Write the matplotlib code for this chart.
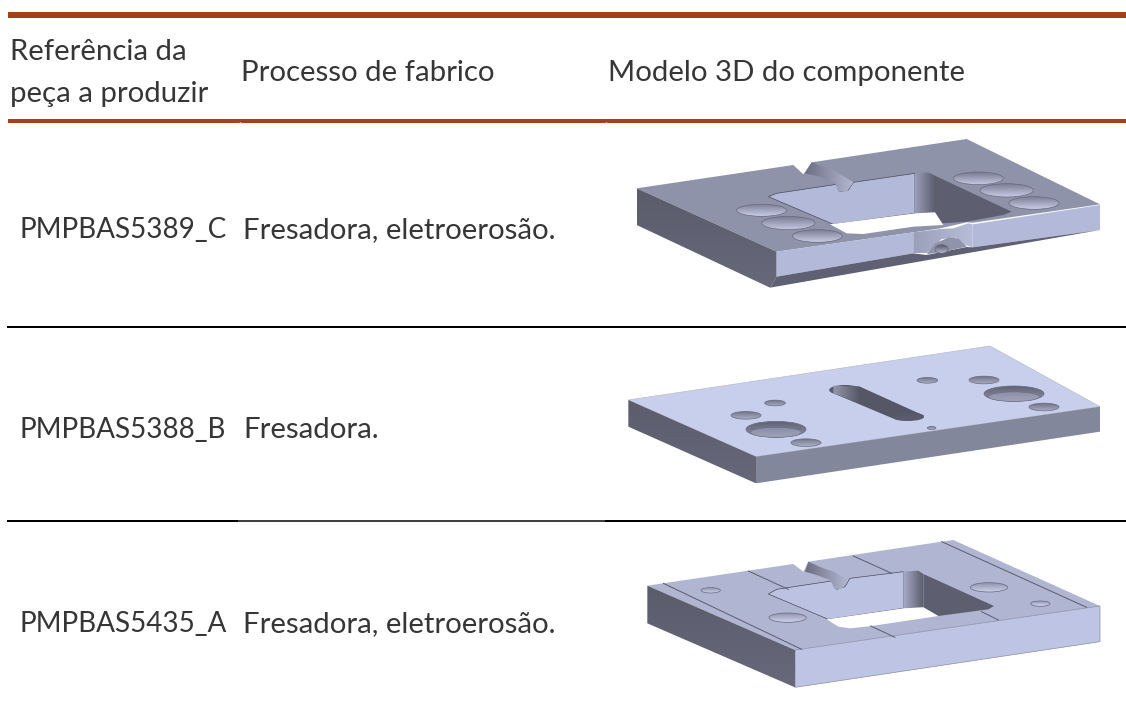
import numpy as np
import matplotlib
matplotlib.use('Agg')
import matplotlib.pyplot as plt
from matplotlib.patches import Polygon, Ellipse
from matplotlib.colors import LinearSegmentedColormap

plt.rcParams['font.family'] = ['Lato', 'DejaVu Sans']

header_ref = ['Referência da', 'peça a produzir']
header_proc = 'Processo de fabrico'
header_model = 'Modelo 3D do componente'
refs = ['PMPBAS5389_C', 'PMPBAS5388_B', 'PMPBAS5435_A']
procs = ['Fresadora, eletroerosão.', 'Fresadora.', 'Fresadora, eletroerosão.']
row_base = [238, 438, 632]

# shapes below are in 3x crop coordinates
m1_top = [(50, 190), (520, 120), (550, 148), (575, 112), (1040, 42), (1440, 238), (1060, 293), (1040, 292), (960, 310), (880, 322), (470, 380)]
m1_left = [(50, 190), (470, 380), (470, 455), (450, 488), (50, 300)]
m1_front_a = [(470, 380), (880, 322), (880, 385), (470, 455)]
m1_front_b = [(1058, 298), (1440, 240), (1440, 315), (1058, 367)]
m1_notch = [(880, 322), (960, 312), (1000, 310), (1045, 295), (1058, 298), (1058, 367), (1035, 360), (1010, 338), (965, 342), (920, 385), (880, 385)]
m1_recess = [(920, 388), (945, 355), (985, 338), (1015, 340), (1040, 365), (980, 378)]
m1_bottom = [(470, 455), (880, 385), (920, 390), (1040, 366), (1058, 367), (1440, 315), (450, 488)]
m1_back = [(445, 215), (470, 205), (650, 178), (660, 200), (685, 195), (700, 172), (885, 145), (885, 265), (640, 298)]
m1_corner = [(885, 145), (925, 142), (945, 152), (945, 262), (885, 265)]
m1_right = [(945, 152), (1175, 260), (1150, 270), (1040, 290), (965, 295), (945, 262)]
m1_open = [(630, 298), (885, 265), (945, 262), (970, 300), (880, 305), (730, 327), (680, 325)]
m1_groove = [(555, 145), (575, 112), (610, 125), (640, 135), (700, 172), (680, 200), (655, 200), (645, 175), (600, 155)]
m1_holes = [(425, 256, 150, 36), (505, 294, 160, 40), (592, 333, 150, 38), (1075, 160, 150, 38), (1160, 196, 160, 40), (1242, 234, 150, 38)]

m2_top = [(25, 195), (1110, 33), (1440, 215), (408, 365)]
m2_left = [(25, 195), (408, 365), (408, 445), (25, 275)]
m2_front = [(408, 365), (1440, 215), (1440, 290), (408, 445)]
m2_slot = [(665, 151), (720, 155), (912, 242), (865, 258), (830, 255), (633, 172)]
m2_slot_ends = [(675, 165, 95, 30), (865, 245, 95, 26)]
m2_slot_wall = [(640, 152), (720, 155), (720, 205), (640, 175)]
m2_small = [(465, 204, 62, 17), (378, 241, 90, 23), (558, 323, 90, 23), (922, 136, 62, 17), (1092, 135, 90, 23), (1272, 216, 90, 23), (935, 279, 26, 9)]
m2_big = [(468, 283, 180, 48), (1182, 176, 180, 46)]

m3_top = [(82, 167), (520, 102), (550, 125), (565, 95), (965, 35), (1000, 30), (1440, 228), (525, 360)]
m3_left = [(82, 167), (525, 360), (525, 472), (82, 280)]
m3_front = [(525, 360), (1440, 228), (1440, 335), (525, 472)]
m3_back = [(445, 192), (470, 178), (640, 152), (650, 178), (675, 170), (690, 145), (850, 125), (850, 235), (625, 268)]
m3_corner = [(850, 125), (895, 122), (910, 132), (910, 232), (850, 235)]
m3_right = [(910, 132), (1122, 228), (1105, 238), (955, 258), (910, 232)]
m3_open = [(620, 268), (850, 235), (910, 232), (955, 258), (755, 288), (690, 295), (655, 290)]
m3_groove = [(555, 125), (565, 95), (610, 115), (640, 125), (685, 150), (665, 178), (645, 178), (630, 150), (590, 135)]
m3_holes = [(272, 181, 58, 16), (503, 263, 112, 28), (1107, 172, 112, 28), (1261, 221, 58, 16)]
m3_lines = [[(130, 160), (545, 358)], [(385, 123), (505, 178)], [(700, 78), (815, 130)], [(965, 35), (1400, 232)], [(752, 288), (825, 322)], [(1085, 245), (1135, 270)]]

fig = plt.figure(figsize=(11.26, 7.19), dpi=100)
ax = fig.add_axes([0, 0, 1, 1])


def px(pts, off):
    return [(off[0] + x / 3, off[1] + y / 3) for x, y in pts]


def grad(patch, c0, c1, horizontal=False, z=3):
    ax.add_patch(patch)
    patch.set_facecolor('none')
    patch.set_edgecolor('none')
    patch.set_zorder(z)
    verts = patch.get_path().transformed(patch.get_patch_transform()).vertices
    x0, y0 = verts.min(axis=0)
    x1, y1 = verts.max(axis=0)
    g = np.linspace(0, 1, 64)
    g = g[None, :] if horizontal else g[:, None]
    cm = LinearSegmentedColormap.from_list('g', [c0, c1])
    ax.imshow(g, extent=(x0, x1, y1, y0), cmap=cm, aspect='auto', clip_path=patch, zorder=z, interpolation='bilinear')


def poly(pts, off, color, z=2, edge='none', lw=0.5):
    ax.add_patch(Polygon(px(pts, off), closed=True, facecolor=color, edgecolor=edge, lw=lw, zorder=z))


def hole(h, off, c0, c1, z=4, edge='#686a7e', lw=0.5):
    cx, cy = off[0] + h[0] / 3, off[1] + h[1] / 3
    w, ht = h[2] / 3, h[3] / 3
    grad(Ellipse((cx, cy), w, ht), c0, c1, z=z)
    ax.add_patch(Ellipse((cx, cy), w, ht, fc='none', ec=edge, lw=lw, zorder=z + 1))


# model 1
o1 = (620, 125)
poly(m1_top, o1, '#8f93a9')
grad(Polygon(px(m1_left, o1)), '#5a5b6b', '#676879')
poly(m1_front_a, o1, '#b3b9d8', z=3)
poly(m1_front_b, o1, '#b3b9d8', z=3)
grad(Polygon(px(m1_notch, o1)), '#9a9fba', '#b8bdd8', horizontal=True)
poly(m1_bottom, o1, '#5f6074', z=3)
poly(m1_recess, o1, '#9094ab', z=4)
poly(m1_back, o1, '#b3b9d8', z=3, edge='#4a4b5a')
grad(Polygon(px(m1_corner, o1)), '#9a9eb8', '#5d5e70', horizontal=True, z=4)
poly(m1_right, o1, '#5d5e6f', z=3)
poly(m1_open, o1, '#ffffff', z=4)
grad(Polygon(px(m1_groove, o1)), '#6c6e82', '#b4b9d2', horizontal=True, z=5)
for h in m1_holes:
    hole(h, o1, '#777a90', '#c6cbe4')
hole((965, 372, 40, 26), o1, '#4f5062', '#b0b4cc', z=6)

# model 2
o2 = (620, 335)
poly(m2_top, o2, '#c8cfec', edge='#b9bccb')
grad(Polygon(px(m2_left, o2)), '#5b5c6c', '#666778')
poly(m2_front, o2, '#83879b', z=2)
poly(m2_slot, o2, '#555766', z=4)
for e in m2_slot_ends:
    hole(e, o2, '#555766', '#5d5f70', z=4, edge='none', lw=0)
grad(Polygon(px(m2_slot_wall, o2)), '#9497ad', '#555766', horizontal=True, z=5)
for h in m2_small:
    hole(h, o2, '#6f7186', '#a9aec6')
for h in m2_big:
    hole(h, o2, '#5f6174', '#8b8ea4')
    hole((h[0], h[1] + 9, h[2] * 0.85, h[3] * 0.62), o2, '#8a8da3', '#9ea2b9', z=6, edge='#6c6e82', lw=0.4)

# model 3
o3 = (620, 530)
poly(m3_top, o3, '#b0b5d1')
grad(Polygon(px(m3_left, o3)), '#5a5b6b', '#676879')
poly(m3_front, o3, '#bdc4e4', z=2, edge='#8a8da3')
poly(m3_back, o3, '#bcc3e2', z=3, edge='#4a4b5a')
grad(Polygon(px(m3_corner, o3)), '#a8adc8', '#5d5e70', horizontal=True, z=4)
poly(m3_right, o3, '#5d5e6f', z=3)
poly(m3_open, o3, '#ffffff', z=4)
grad(Polygon(px(m3_groove, o3)), '#6c6e82', '#b4b9d2', horizontal=True, z=5)
for h in m3_holes:
    hole(h, o3, '#8b8ea6', '#ccd1ec')
for ln in m3_lines:
    xy = np.array(px(ln, o3))
    ax.plot(xy[:, 0], xy[:, 1], color='#5a5c70', lw=0.7, zorder=4)

# table rules
ax.fill_between([8, 1126], 12, 18, color='#a5401f', lw=0, zorder=1)
ax.fill_between([8, 1126], 119, 123, color='#a5401f', lw=0, zorder=1)
ax.plot([8, 1126], [327, 327], color='black', lw=1.44, zorder=1)
ax.plot([8, 239], [521, 521], color='black', lw=1.44, zorder=1)
ax.plot([239, 606], [521, 521], color='#3f3f3f', lw=1.44, zorder=1)
ax.plot([606, 1126], [521, 521], color='black', lw=1.44, zorder=1)
ax.vlines([240, 606], 122, 123.5, color='white', lw=1, zorder=2)

# text
fs = 21.2
fs_ref = 20.1
tc = '#363636'
ax.text(10, 60, header_ref[0], fontsize=fs, color=tc, va='baseline')
ax.text(10, 102, header_ref[1], fontsize=fs, color=tc, va='baseline')
ax.text(241, 81, header_proc, fontsize=fs, color=tc, va='baseline')
ax.text(608, 81, header_model, fontsize=fs, color=tc, va='baseline')
for r, p, y in zip(refs, procs, row_base):
    ax.text(20, y, r, fontsize=fs_ref, color=tc, va='baseline')
    ax.text(243, y, p, fontsize=fs, color=tc, va='baseline')

ax.set_xlim(0, 1126)
ax.set_ylim(719, 0)
ax.axis('off')
fig.savefig('out.png', dpi=100)
